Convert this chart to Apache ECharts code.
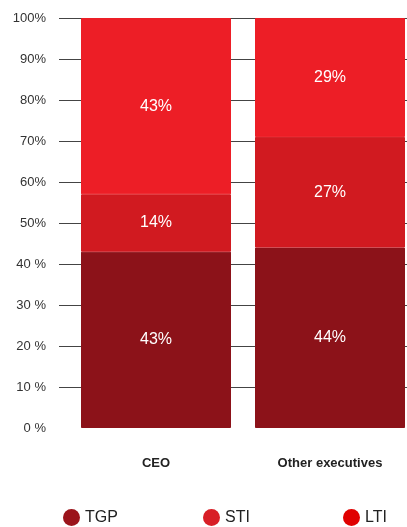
<!DOCTYPE html>
<html>
<head>
<meta charset="utf-8">
<script src="https://cdn.jsdelivr.net/npm/echarts@6/dist/echarts.min.js"></script>
<style>
  html, body { margin: 0; padding: 0; background: #fff; }
  #chart { width: 407px; height: 527px; }
</style>
</head>
<body>
<div id="chart"></div>
<script>
// Pay mix by role, share of total remuneration (%)
var categories = ['CEO', 'Other executives'];
var seriesNames = ['TGP', 'STI', 'LTI'];
var tgp = [43, 44];
var sti = [14, 27];
var lti = [43, 29];
var yTickValues = [0, 10, 20, 30, 40, 50, 60, 70, 80, 90, 100];
var yTickLabels = ['0 %', '10 %', '20 %', '30 %', '40 %', '50%', '60%', '70%', '80%', '90%', '100%'];

var barColors = ['#8c1219', '#d11a20', '#ed1e26'];
var legendColors = ['#9b141b', '#d81e26', '#e00000'];
var legendLeft = [58, 198, 338];
var font = '"Liberation Sans", Arial, sans-serif';

var values = [tgp, sti, lti];

var series = seriesNames.map(function (name, i) {
  return {
    name: name,
    type: 'bar',
    stack: 'mix',
    barWidth: 150,
    data: values[i],
    itemStyle: { color: barColors[i], borderColor: barColors[i], borderWidth: 1 },
    label: {
      show: true,
      position: 'inside',
      color: '#fff',
      fontFamily: font,
      fontSize: 16,
      formatter: function (p) { return p.value + '%'; }
    }
  };
});

var legends = seriesNames.map(function (name, i) {
  return {
    data: [{ name: name, itemStyle: { color: legendColors[i], borderWidth: 0 } }],
    left: legendLeft[i],
    top: 504,
    icon: 'circle',
    itemWidth: 17,
    itemHeight: 17,
    itemGap: 5,
    selectedMode: false,
    itemStyle: { borderWidth: 0 },
    textStyle: { fontFamily: font, fontSize: 16, color: '#222', padding: [1, 0, 0, 0] }
  };
});

var chart = echarts.init(document.getElementById('chart'), null, { renderer: 'canvas' });
chart.setOption({
  animation: false,
  legend: legends,
  grid: { left: 69, width: 348, top: 18, bottom: 99, containLabel: false, outerBoundsMode: 'none' },
  xAxis: {
    type: 'category',
    data: categories,
    axisLine: { show: false },
    axisTick: { show: false },
    axisLabel: {
      margin: 29,
      fontFamily: font,
      fontSize: 13,
      fontWeight: 'bold',
      color: '#222'
    }
  },
  yAxis: {
    type: 'value',
    min: 0,
    max: 100,
    interval: 10,
    axisLine: { show: false },
    axisTick: {
      show: true,
      length: 10,
      customValues: yTickValues.slice(1),
      lineStyle: { color: '#444', width: 1 }
    },
    splitLine: { show: true, lineStyle: { color: '#444', width: 1 } },
    axisLabel: {
      margin: 23,
      fontFamily: font,
      fontSize: 13,
      color: '#333',
      customValues: yTickValues,
      formatter: function (v) { return yTickLabels[Math.round(v / 10)]; }
    }
  },
  series: series
});
</script>
</body>
</html>
